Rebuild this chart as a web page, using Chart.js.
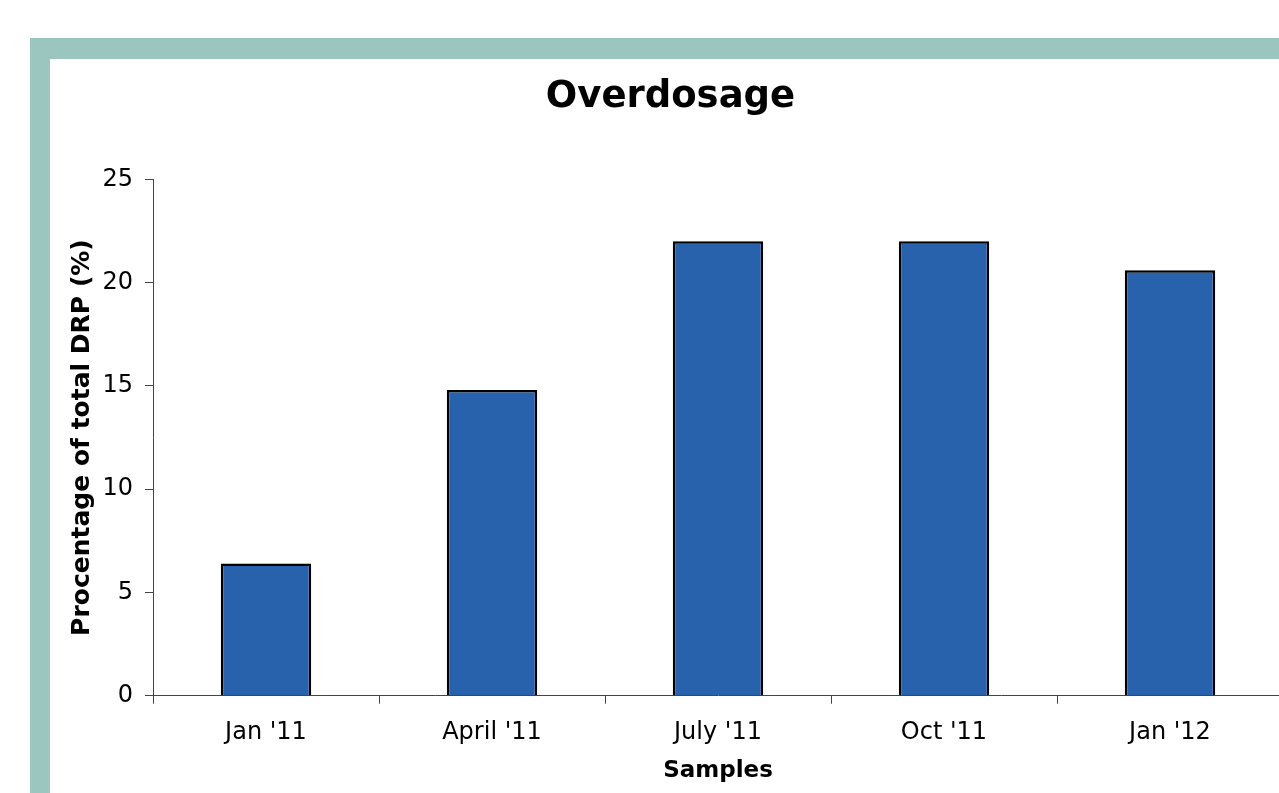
<!DOCTYPE html>
<html>
<head>
<meta charset="utf-8">
<script src="https://cdn.jsdelivr.net/npm/chart.js@4"></script>
<style>
    html, body { margin: 0; padding: 0; background: #fff; overflow: hidden; }
    body { width: 1279px; height: 793px; position: relative; }
    .frame {
        position: absolute; left: 30px; top: 38px; width: 1300px; height: 800px;
        border-left: 20px solid #9bc6c0; border-top: 21px solid #9bc6c0;
        background: #fff;
    }
    .holder { position: absolute; left: 58px; top: 59px; width: 1232px; height: 740px; }
</style>
</head>
<body>
<div class="frame"></div>
<div class="holder"><canvas id="overdosageChart" width="1232" height="740"></canvas></div>
<script>
(function () {
    "use strict";

    // Data
    const categories = ["Jan '11", "April '11", "July '11", "Oct '11", "Jan '12"];
    const overdosage = [6.4, 14.8, 22.0, 22.0, 20.6];
    const yTicks = [0, 5, 10, 15, 20, 25];

    const font = "'DejaVu Sans', Verdana, sans-serif";

    const ctx = document.getElementById("overdosageChart").getContext("2d");

    new Chart(ctx, {
        type: "bar",
        data: {
            labels: categories,
            datasets: [
                {
                    label: "Overdosage",
                    data: overdosage,
                    backgroundColor: "#2862ad",
                    borderColor: "#000",
                    borderWidth: 2.5,
                    barPercentage: 0.4,
                    categoryPercentage: 1,
                },
            ],
        },
        options: {
            responsive: false,
            animation: false,
            devicePixelRatio: 1,
            layout: { padding: { left: 0, right: 7, top: 0, bottom: 0 } },
            plugins: {
                legend: { display: false },
                tooltip: { enabled: false },
                title: {
                    display: true,
                    text: "Overdosage",
                    color: "#000",
                    font: { family: font, size: 37, weight: "bold" },
                    padding: { top: 16, bottom: 60 },
                },
            },
            scales: {
                x: {
                    grid: {
                        drawOnChartArea: false,
                        drawTicks: true,
                        tickLength: 8,
                        color: "#444",
                    },
                    border: { color: "#444", width: 1 },
                    ticks: {
                        color: "#000",
                        padding: 15,
                        font: { family: font, size: 24 },
                    },
                    title: {
                        display: true,
                        text: "Samples",
                        color: "#000",
                        font: { family: font, size: 23, weight: "bold" },
                        padding: { top: 0, bottom: 14 },
                    },
                    afterFit: (scale) => { scale.height = 103.3; },
                },
                y: {
                    min: yTicks[0],
                    max: yTicks[yTicks.length - 1],
                    afterBuildTicks: (scale) => {
                        scale.ticks = yTicks.map((v) => ({ value: v }));
                    },
                    grid: {
                        drawOnChartArea: false,
                        drawTicks: true,
                        tickLength: 8,
                        color: "#444",
                    },
                    border: { color: "#444", width: 1 },
                    ticks: {
                        color: "#000",
                        padding: 12,
                        font: { family: font, size: 24 },
                    },
                    title: {
                        display: true,
                        text: "Procentage of total DRP (%)",
                        color: "#000",
                        font: { family: font, size: 25, weight: "bold" },
                        padding: { top: 9, bottom: 0 },
                    },
                    afterFit: (scale) => { scale.width = 95; },
                },
            },
        },
    });
})();
</script>
</body>
</html>
